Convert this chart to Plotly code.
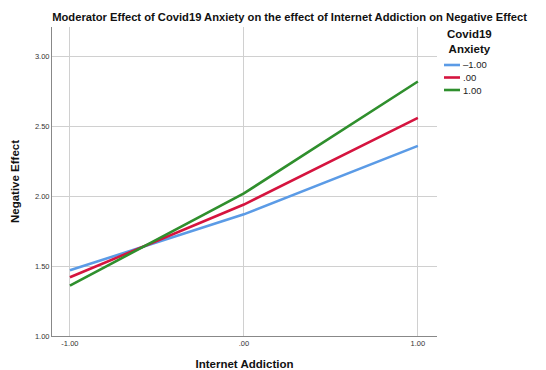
import plotly.graph_objects as go

x_labels = [-1.0, 0.0, 1.0]
x_ticktext = ["-1.00", ".00", "1.00"]
series_names = ["-1.00", ".00", "1.00"]
blue_vals = [1.47, 1.87, 2.36]
red_vals = [1.42, 1.94, 2.56]
green_vals = [1.36, 2.02, 2.82]
y_ticks = [1.0, 1.5, 2.0, 2.5, 3.0]
y_ticktext = ["1.00", "1.50", "2.00", "2.50", "3.00"]
colors = ["#5b9be6", "#d5143f", "#2f8f2d"]
title_text = "Moderator Effect of Covid19 Anxiety on the effect of Internet Addiction on Negative Effect"

font = "Liberation Sans"
fig = go.Figure()
for name, vals, c in zip(series_names, [blue_vals, red_vals, green_vals], colors):
    fig.add_trace(go.Scatter(x=x_labels, y=vals, mode="lines", name=name,
                             line=dict(color=c, width=2.6), showlegend=False))

# page has an 8px body margin; figure sized to fit the window
fig.update_layout(
    width=538, height=362,
    margin=dict(l=44, r=109, t=19, b=34, autoexpand=False),
    paper_bgcolor="white", plot_bgcolor="white",
    font=dict(family=font, color="#222"),
    title=dict(text="<b>" + title_text + "</b>",
               x=0.617, xanchor="center", y=1 - 9/362, yanchor="middle",
               xref="paper", yref="container",
               font=dict(size=11.2, family=font, color="#111")),
    xaxis=dict(range=[-1.103, 1.11], tickvals=x_labels, ticktext=x_ticktext,
               showgrid=True, gridcolor="#d0d0d0", gridwidth=1, automargin=False,
               showline=True, linecolor="#888", linewidth=1, zeroline=False,
               ticks="", tickfont=dict(size=7.5, color="#333"),
               title=dict(text="<b>Internet Addiction</b>", font=dict(size=11.5, color="#111"), standoff=12)),
    yaxis=dict(range=[1.0, 3.21], tickvals=y_ticks, ticktext=y_ticktext,
               showgrid=True, gridcolor="#d0d0d0", gridwidth=1, automargin=False,
               showline=True, linecolor="#888", linewidth=1, zeroline=False,
               ticks="", tickfont=dict(size=7.5, color="#333"),
               title=dict(text="<b>Negative Effect</b>", font=dict(size=11.5, color="#111"), standoff=12)),
)

# legend drawn manually
fig.add_annotation(xref="paper", yref="paper", x=(469-52)/385, y=(336-42)/309,
                   text="<b>Covid19<br>Anxiety</b>", showarrow=False, align="center",
                   font=dict(size=11.5, color="#111"), xanchor="center", yanchor="middle")
for i, (name, c) in enumerate(zip(series_names, colors)):
    ypix = 65 + i * 12.5
    yp = (336 - ypix) / 309
    fig.add_shape(type="line", xref="paper", yref="paper",
                  x0=(444-52)/385, x1=(460-52)/385, y0=yp, y1=yp,
                  line=dict(color=c, width=2.6))
    label = name.replace("-", "\u2013")
    fig.add_annotation(xref="paper", yref="paper", x=(461-52)/385, y=yp,
                       text=label, showarrow=False, xanchor="left", yanchor="middle",
                       font=dict(size=9.5, color="#222"))

fig.write_html("out.html")
